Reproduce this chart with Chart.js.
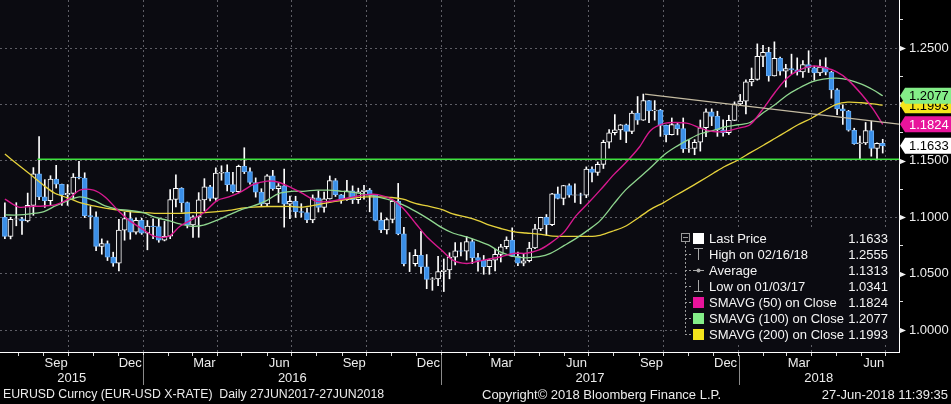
<!DOCTYPE html>
<html>
<head>
<meta charset="utf-8">
<script src="https://cdn.jsdelivr.net/npm/chart.js@4.4.1/dist/chart.umd.min.js"></script>
<style>
  html, body { margin: 0; padding: 0; background: #000; }
  canvas { display: block; }
</style>
</head>
<body>
<canvas id="fxChart" width="951" height="404"></canvas>
<script>
// EURUSD weekly candles, Jul 2015 - Jun 2018 (weeks start Monday 13 Jul 2015)
const firstWeek = '2015-07-13';
const firstOpen = 1.1000;
const weekClose = [
  1.0830,1.0982,1.0985,1.0968,1.1105,1.1385,1.1181,1.1146,1.1339,1.1292,1.1198,1.1211,1.1357,1.1348,1.1014,1.1003,1.0741,1.0766,1.0646,1.0592,1.0885,1.0988,1.0867,1.0972,1.0859,
  1.0921,1.0916,1.0797,1.0831,1.1157,1.1257,1.1130,1.0932,1.1003,1.1154,1.1269,1.1166,1.1391,1.1398,1.1289,1.1226,1.1452,1.1405,1.1308,1.1223,1.1117,1.1367,1.1253,1.1279,1.1116,1.1140,
  1.1049,1.1042,1.0976,1.1173,1.1087,1.1163,1.1325,1.1199,1.1155,1.1233,1.1155,1.1226,1.1241,1.1201,1.0972,1.0888,1.0980,1.1141,1.0852,1.0589,1.0589,1.0663,1.0561,1.0449,1.0454,1.0517,
  1.0532,1.0646,1.0701,1.0698,1.0784,1.0642,1.0617,1.0561,1.0620,1.0671,1.0738,1.0798,1.0653,1.0593,1.0614,1.0727,1.0896,1.0998,1.0934,1.1207,1.1166,1.1281,1.1196,1.1198,1.1196,1.1426,
  1.1398,1.1469,1.1665,1.1749,1.1774,1.1820,1.1761,1.1923,1.1861,1.2035,1.1942,1.1949,1.1815,1.1733,1.1821,1.1785,1.1606,1.1609,1.1665,1.1793,1.1934,1.1894,1.1774,1.1749,1.1859,1.2005,
  1.2029,1.2200,1.2222,1.2426,1.2461,1.2253,1.2408,1.2295,1.2317,1.2307,1.2288,1.2354,1.2324,1.2280,1.2332,1.2286,1.2129,1.1961,1.1942,1.1771,1.1653,1.1659,1.1768,1.1609,1.1655,1.1633
];
const weekHigh = [
  1.1128,1.1000,1.1129,1.0998,1.1214,1.1440,1.1714,1.1333,1.1368,1.1460,1.1293,1.1290,1.1387,1.1495,1.1394,1.1095,1.1047,1.0808,1.0790,1.0690,1.0982,1.1045,1.1058,1.0993,1.0990,
  1.0971,1.0986,1.0985,1.0963,1.1245,1.1376,1.1262,1.1135,1.1014,1.1218,1.1342,1.1282,1.1438,1.1456,1.1465,1.1398,1.1462,1.1616,1.1437,1.1349,1.1253,1.1378,1.1416,1.1299,1.1427,1.1188,
  1.1186,1.1120,1.1080,1.1198,1.1234,1.1223,1.1366,1.1343,1.1202,1.1327,1.1278,1.1258,1.1283,1.1255,1.1203,1.1039,1.0993,1.1145,1.1300,1.0910,1.0687,1.0713,1.0874,1.0669,1.0465,1.0653,
  1.0630,1.0685,1.0775,1.0775,1.0829,1.0802,1.0679,1.0661,1.0630,1.0715,1.0760,1.0826,1.0906,1.0692,1.0677,1.0778,1.0937,1.1000,1.1024,1.1212,1.1268,1.1283,1.1296,1.1296,1.1214,1.1446,
  1.1446,1.1490,1.1683,1.1777,1.1910,1.1822,1.1826,1.1941,1.2070,1.2092,1.2036,1.2034,1.1957,1.1816,1.1880,1.1834,1.1880,1.1688,1.1688,1.1862,1.1961,1.1961,1.1940,1.1863,1.1904,1.2023,
  1.2089,1.2219,1.2323,1.2537,1.2524,1.2507,1.2555,1.2420,1.2356,1.2446,1.2413,1.2389,1.2476,1.2340,1.2396,1.2414,1.2294,1.2140,1.1997,1.1947,1.1789,1.1720,1.1840,1.1852,1.1659,1.1691
];
const weekLow = [
  1.0809,1.0808,1.0924,1.0848,1.0958,1.1017,1.1155,1.1087,1.1104,1.1259,1.1104,1.1105,1.1160,1.1340,1.0997,1.0897,1.0704,1.0672,1.0616,1.0565,1.0524,1.0796,1.0805,1.0850,1.0848,
  1.0711,1.0810,1.0778,1.0790,1.0810,1.1092,1.1046,1.0905,1.0822,1.0822,1.1058,1.1144,1.1150,1.1328,1.1233,1.1215,1.1215,1.1387,1.1294,1.1178,1.1098,1.1099,1.1239,1.1131,1.0912,1.0988,
  1.0998,1.1002,1.0952,1.0951,1.1046,1.1045,1.1161,1.1184,1.1123,1.1150,1.1121,1.1122,1.1161,1.1048,1.0967,1.0862,1.0851,1.0950,1.0844,1.0569,1.0518,1.0567,1.0505,1.0366,1.0352,1.0393,
  1.0341,1.0454,1.0577,1.0656,1.0620,1.0589,1.0521,1.0494,1.0494,1.0524,1.0603,1.0720,1.0651,1.0570,1.0569,1.0603,1.0722,1.0881,1.0839,1.0924,1.1162,1.1110,1.1177,1.1132,1.1119,1.1173,
  1.1312,1.1371,1.1432,1.1612,1.1730,1.1689,1.1661,1.1741,1.1823,1.1858,1.1838,1.1861,1.1717,1.1668,1.1729,1.1730,1.1574,1.1574,1.1554,1.1586,1.1714,1.1812,1.1717,1.1718,1.1733,1.1856,
  1.1996,1.1916,1.2165,1.2215,1.2335,1.2206,1.2252,1.2260,1.2154,1.2273,1.2260,1.2239,1.2283,1.2215,1.2255,1.2262,1.2055,1.1910,1.1823,1.1763,1.1646,1.1510,1.1644,1.1541,1.1508,1.1569
];

const sma50 = [
  1.116,1.109,1.1095,1.110,1.111,1.116,1.124,1.124,1.118,1.106,1.097,1.089,1.083,1.083,1.092,1.098,1.104,1.115,1.118,1.123,
  1.129,1.132,1.131,1.126,1.121,1.114,1.114,1.116,1.118,1.120,1.120,1.116,1.108,1.094,1.082,1.071,1.062,1.059,1.061,1.063,
  1.065,1.068,1.068,1.071,1.077,1.087,1.101,1.113,1.124,1.138,1.148,1.162,1.177,1.183,1.184,1.183,1.179,1.176,1.176,1.179,
  1.182,1.197,1.211,1.223,1.230,1.234,1.233,1.229,1.222,1.209,1.196,1.1824
];
const sma100 = [
  1.102,1.102,1.103,1.105,1.110,1.115,1.118,1.115,1.110,1.107,1.106,1.104,1.100,1.097,1.094,1.092,1.093,1.0975,1.102,1.107,
  1.110,1.115,1.121,1.123,1.123,1.124,1.124,1.123,1.122,1.120,1.118,1.115,1.111,1.105,1.099,1.091,1.086,1.0825,1.079,1.075,
  1.069,1.065,1.064,1.065,1.068,1.075,1.081,1.089,1.097,1.112,1.124,1.135,1.144,1.155,1.162,1.169,1.174,1.177,1.180,1.182,
  1.184,1.193,1.200,1.208,1.214,1.220,1.2225,1.2234,1.222,1.218,1.213,1.2077
];
const sma200 = [
  1.156,1.146,1.138,1.128,1.121,1.117,1.113,1.110,1.108,1.1065,1.105,1.104,1.1035,1.1035,1.1035,1.104,1.104,1.105,1.106,1.108,
  1.109,1.1095,1.1095,1.1095,1.109,1.111,1.113,1.115,1.117,1.118,1.118,1.1175,1.116,1.112,1.110,1.107,1.103,1.100,1.097,1.093,
  1.090,1.087,1.086,1.085,1.0835,1.083,1.083,1.083,1.084,1.088,1.092,1.100,1.107,1.113,1.119,1.126,1.132,1.139,1.145,1.151,
  1.157,1.164,1.170,1.176,1.182,1.188,1.194,1.200,1.202,1.2015,1.2005,1.1993
];

// drawn study lines
const supportStart = '2015-08-24';
const supportLevel = 1.1515;
const trendDates = ['2017-09-08', '2018-07-17'];
const trendValues = [1.2092, 1.1826];

// axis range and ticks
const xStart = '2015-07-09';
const xEnd = '2018-07-17';
const yMin = 0.9805;
const yMax = 1.2926;
const yTickValues = [1.000, 1.025, 1.050, 1.075, 1.100, 1.125, 1.150, 1.175, 1.200, 1.225, 1.250, 1.275];
const monthNames = ['Jan','Feb','Mar','Apr','May','Jun','Jul','Aug','Sep','Oct','Nov','Dec'];

// legend and price tags
const legendLabels = ['Last Price', 'High on 02/16/18', 'Average', 'Low on 01/03/17',
  'SMAVG (50) on Close', 'SMAVG (100) on Close', 'SMAVG (200) on Close'];
const legendValues = ['1.1633', '1.2555', '1.1313', '1.0341', '1.1824', '1.2077', '1.1993'];
const tagValues = [1.1993, 1.2077, 1.1824, 1.1633];

const FONT = '"Liberation Sans", Arial, sans-serif';
const TXT = '#ececec';
const GRID = '#5e5e66';
const PLOT_BG = '#0b0b11';
const C50 = '#d8198f', C100 = '#8fd68f', C200 = '#e6d23c';
const TAG50 = '#e8149b', TAG100 = '#84ee88', TAG200 = '#f4e41c';

const pad = n => String(n).padStart(2, '0');
const dayNum = s => Date.UTC(+s.slice(0, 4), +s.slice(5, 7) - 1, +s.slice(8, 10)) / 86400000;
const firstDay = dayNum(firstWeek);

// sample dates of the moving averages
const smaDates = ['2015-07-15'];
for (let y = 2015, m = 7; y < 2018 || m <= 5; ) {
  smaDates.push(`${y}-${pad(m + 1)}-01`, `${y}-${pad(m + 1)}-15`);
  m++; if (m === 12) { m = 0; y++; }
}
smaDates.push('2018-06-27');

// month starts for the x ticks
const monthStarts = [];
for (let y = 2015, m = 7; y < 2018 || m <= 6; ) {
  monthStarts.push({ value: Date.UTC(y, m, 1) / 86400000, month: m, year: y });
  m++; if (m === 12) { m = 0; y++; }
}
const quarterDays = new Set(monthStarts.filter(t => t.month % 3 === 0).map(t => t.value));

// candles: open is the previous week's close
const candleX = weekClose.map((c, i) => firstDay + i * 7 + 2);
const wickData = weekClose.map((c, i) => ({ x: candleX[i], y: [weekLow[i], weekHigh[i]] }));
const bodyData = weekClose.map((c, i) => {
  const o = i === 0 ? firstOpen : weekClose[i - 1];
  return { x: candleX[i], y: [o, c], up: c >= o };
});
const smaPoints = vals => vals.map((v, i) => ({ x: dayNum(smaDates[i]), y: v }));

const isMajor = v => Math.round(v * 1000) % 50 === 0;

const bloombergDecor = {
  id: 'bloombergDecor',
  beforeDraw(chart) {
    const { ctx, chartArea: a } = chart;
    ctx.save();
    ctx.fillStyle = '#000';
    ctx.fillRect(0, 0, chart.width, chart.height);
    ctx.fillStyle = PLOT_BG;
    ctx.fillRect(a.left, a.top, a.right - a.left, a.bottom - a.top);
    ctx.restore();
  },
  afterDraw(chart) {
    const { ctx, chartArea: a, scales: { x, y } } = chart;
    ctx.save();
    ctx.font = '13px ' + FONT;
    ctx.textBaseline = 'middle';

    // arrows on major y ticks
    ctx.fillStyle = '#f0f0f0';
    yTickValues.filter(isMajor).forEach(v => {
      const py = Math.round(y.getPixelForValue(v)) + 0.5;
      ctx.beginPath();
      ctx.moveTo(a.right, py - 3);
      ctx.lineTo(a.right + 7, py);
      ctx.lineTo(a.right, py + 3);
      ctx.closePath();
      ctx.fill();
    });

    // month and year labels
    ctx.fillStyle = TXT;
    ctx.textAlign = 'center';
    monthStarts.filter(t => t.month % 3 === 2).forEach(t => {
      ctx.fillText(monthNames[t.month], x.getPixelForValue(t.value + 15), a.bottom + 11);
    });
    [2015, 2016, 2017, 2018].forEach(yr => {
      const p0 = Math.max(a.left, x.getPixelForValue(Date.UTC(yr, 0, 1) / 86400000));
      const p1 = Math.min(a.right, x.getPixelForValue(Date.UTC(yr + 1, 0, 1) / 86400000));
      ctx.fillText(String(yr), (p0 + p1) / 2, a.bottom + 26);
      if (yr > 2015) {
        ctx.strokeStyle = '#8a8a8a';
        ctx.lineWidth = 1;
        ctx.beginPath();
        ctx.moveTo(Math.round(p0) + 0.5, a.bottom + 3);
        ctx.lineTo(Math.round(p0) + 0.5, a.bottom + 33);
        ctx.stroke();
      }
    });

    // footer
    ctx.textAlign = 'left';
    ctx.font = '12.3px ' + FONT;
    ctx.fillText('EURUSD Curncy (EUR-USD X-RATE)  Daily 27JUN2017-27JUN2018', 3, 395);
    ctx.font = '13px ' + FONT;
    ctx.fillText('Copyright\u00a9 2018 Bloomberg Finance L.P.', 482, 395);
    ctx.textAlign = 'right';
    ctx.fillText('27-Jun-2018 11:39:35', 948, 395);

    // price tags on the right axis
    const tagStyles = [[TAG200, '#000'], [TAG100, '#000'], [TAG50, '#fff'], ['#ffffff', '#000']];
    tagValues.forEach((v, i) => {
      const py = y.getPixelForValue(v);
      ctx.fillStyle = tagStyles[i][0];
      ctx.beginPath();
      ctx.moveTo(a.right + 1, py);
      ctx.lineTo(a.right + 6, py - 8);
      ctx.lineTo(chart.width, py - 8);
      ctx.lineTo(chart.width, py + 8);
      ctx.lineTo(a.right + 6, py + 8);
      ctx.closePath();
      ctx.fill();
      ctx.fillStyle = tagStyles[i][1];
      ctx.textAlign = 'left';
      ctx.fillText(v.toFixed(4), a.right + 10, py + 1);
    });

    // legend box
    const lx = 679, ly = 229, rowH = 16;
    ctx.fillStyle = PLOT_BG;
    ctx.fillRect(lx, ly, 218, 114);
    ctx.strokeStyle = '#9a9a9a';
    ctx.lineWidth = 1;
    ctx.setLineDash([2, 2]);
    ctx.beginPath();
    ctx.moveTo(685.5, ly + 13);
    ctx.lineTo(685.5, ly + 9 + rowH * 6);
    for (let r = 1; r < 7; r++) {
      ctx.moveTo(685, ly + 9 + rowH * r + 0.5);
      ctx.lineTo(691, ly + 9 + rowH * r + 0.5);
    }
    ctx.stroke();
    ctx.setLineDash([]);
    ctx.strokeRect(681.5, ly + 4.5, 8, 8);
    ctx.beginPath();
    ctx.moveTo(683, ly + 8.5);
    ctx.lineTo(688, ly + 8.5);
    ctx.stroke();

    const swatches = ['#ffffff', null, null, null, TAG50, TAG100, TAG200];
    legendLabels.forEach((lab, r) => {
      const cy = ly + 9 + rowH * r;
      if (swatches[r]) {
        ctx.fillStyle = swatches[r];
        ctx.fillRect(693, cy - 5, 11, 11);
      } else {
        ctx.strokeStyle = '#a8a8a8';
        ctx.beginPath();
        if (r === 1) {
          ctx.moveTo(694, cy - 5.5); ctx.lineTo(703, cy - 5.5);
          ctx.moveTo(698.5, cy - 5.5); ctx.lineTo(698.5, cy + 6);
        } else if (r === 2) {
          ctx.moveTo(693, cy + 0.5); ctx.lineTo(704, cy + 0.5);
        } else {
          ctx.moveTo(698.5, cy - 6); ctx.lineTo(698.5, cy + 5.5);
          ctx.moveTo(694, cy + 5.5); ctx.lineTo(703, cy + 5.5);
        }
        ctx.stroke();
        if (r === 2) {
          ctx.fillStyle = '#a8a8a8';
          ctx.beginPath();
          ctx.arc(698.5, cy + 0.5, 2, 0, Math.PI * 2);
          ctx.fill();
        }
      }
      ctx.fillStyle = '#f4f4f4';
      ctx.textAlign = 'left';
      ctx.fillText(lab, 709, cy + 1);
      ctx.textAlign = 'right';
      ctx.fillText(legendValues[r], 888, cy + 1);
    });
    ctx.restore();
  }
};

new Chart(document.getElementById('fxChart'), {
  type: 'line',
  data: {
    datasets: [
      {
        label: 'Trend',
        data: trendDates.map((d, i) => ({ x: dayNum(d), y: trendValues[i] })),
        borderColor: '#c4bba2', borderWidth: 1.3, pointRadius: 0, order: 1
      },
      {
        label: 'Support',
        data: [{ x: dayNum(supportStart), y: supportLevel }, { x: dayNum(xEnd), y: supportLevel }],
        borderColor: '#3fe23f', borderWidth: 1.5, pointRadius: 0, order: 1
      },
      {
        label: 'SMAVG (50)', data: smaPoints(sma50),
        borderColor: C50, borderWidth: 1.4, pointRadius: 0, tension: 0.3, order: 1
      },
      {
        label: 'SMAVG (100)', data: smaPoints(sma100),
        borderColor: C100, borderWidth: 1.3, pointRadius: 0, tension: 0.3, order: 1
      },
      {
        label: 'SMAVG (200)', data: smaPoints(sma200),
        borderColor: C200, borderWidth: 1.3, pointRadius: 0, tension: 0.3, order: 1
      },
      {
        type: 'bar', label: 'Body', data: bodyData, grouped: false, order: 2,
        barThickness: 5, borderSkipped: false, borderWidth: 1,
        backgroundColor: c => (c.raw && c.raw.up) ? PLOT_BG : '#3a8fe8',
        borderColor: c => (c.raw && c.raw.up) ? '#ffffff' : '#6aaef5'
      },
      {
        type: 'bar', label: 'Range', data: wickData, grouped: false, order: 3,
        barThickness: 1, backgroundColor: '#ffffff', borderWidth: 0
      }
    ]
  },
  options: {
    responsive: false,
    animation: false,
    events: [],
    layout: { padding: 0 },
    plugins: { legend: { display: false }, tooltip: { enabled: false } },
    scales: {
      x: {
        type: 'linear',
        min: dayNum(xStart),
        max: dayNum(xEnd),
        offset: false,
        afterBuildTicks: s => { s.ticks = monthStarts.map(t => ({ value: t.value })); },
        afterFit: s => { s.height = 52; s.paddingLeft = 0; s.paddingRight = 0; },
        ticks: { display: false, autoSkip: false },
        grid: {
          offset: false,
          color: c => (c.tick && quarterDays.has(c.tick.value)) ? GRID : 'rgba(0,0,0,0)',
          tickColor: '#d8d8d8',
          tickLength: 4,
          tickBorderDash: []
        },
        border: { color: '#ffffff', width: 1, dash: [2, 3] }
      },
      y: {
        position: 'right',
        min: yMin,
        max: yMax,
        afterBuildTicks: s => { s.ticks = yTickValues.map(v => ({ value: v })); },
        afterFit: s => { s.width = 52; s.paddingTop = 0; s.paddingBottom = 0; },
        ticks: {
          autoSkip: false,
          padding: 6,
          color: TXT,
          font: { family: FONT, size: 13 },
          callback: v => isMajor(v) ? v.toFixed(4) : ''
        },
        grid: {
          color: c => (c.tick && isMajor(c.tick.value)) ? GRID : 'rgba(0,0,0,0)',
          tickColor: '#e0e0e0',
          tickLength: 4,
          tickBorderDash: []
        },
        border: { color: '#ffffff', width: 1, dash: [2, 3] }
      }
    }
  },
  plugins: [bloombergDecor]
});
</script>
</body>
</html>
